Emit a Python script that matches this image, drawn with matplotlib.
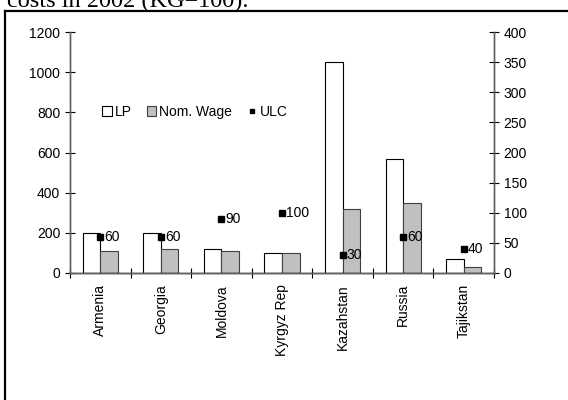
import matplotlib
matplotlib.use("Agg")
import matplotlib.pyplot as plt
import matplotlib.patches as mpatches
from matplotlib.lines import Line2D
import numpy as np

plt.rcParams["font.family"] = ["Liberation Sans", "DejaVu Sans"]

countries = ["Armenia", "Georgia", "Moldova", "Kyrgyz Rep", "Kazahstan", "Russia", "Tajikstan"]
lp = [200, 200, 120, 100, 1050, 570, 70]
nom_wage = [110, 120, 110, 100, 320, 350, 30]
ulc = [60, 60, 90, 100, 30, 60, 40]

AX_COL = "#606060"
W = 568 / 100
H = 400 / 100

fig = plt.figure(figsize=(W, H), dpi=100)
ax = fig.add_axes([70 / 568, 1 - 273 / 400, 424 / 568, 241 / 400])
ax2 = ax.twinx()

x = np.arange(len(countries))
bw = 0.29
ax.bar(x - bw / 2, lp, bw, color="white", edgecolor="black", linewidth=0.8, zorder=2)
ax.bar(x + bw / 2, nom_wage, bw, color="#C0C0C0", edgecolor="#404040", linewidth=0.8, zorder=2)

ax2.plot(x, ulc, ls="none", marker="s", ms=4, color="black", zorder=3)
for xi, v in zip(x, ulc):
    ax2.annotate(f"{v}", (xi, v), xytext=(3, 0), textcoords="offset points",
                 ha="left", va="center", fontsize=10)

ax.set_xlim(-0.5, len(countries) - 0.5)
ax.set_ylim(0, 1200)
ax.set_yticks(range(0, 1201, 200))
ax2.set_ylim(0, 400)
ax2.set_yticks(range(0, 401, 50))

ax.set_xticks(x)
ax.set_xticklabels(countries, rotation=90, fontsize=10)
ax.set_xticks(np.arange(-0.5, len(countries)), minor=True)
ax.tick_params(axis="x", which="major", length=0, pad=8)
ax.tick_params(axis="x", which="minor", direction="inout", length=7, color="black", width=0.8)
ax.tick_params(axis="y", direction="inout", length=7, color="black", width=0.8, labelsize=10)
ax2.tick_params(axis="y", direction="inout", length=7, color="black", width=0.8, labelsize=10)

for a in (ax, ax2):
    a.spines["top"].set_visible(False)
    for s in ("left", "right", "bottom"):
        a.spines[s].set_color(AX_COL)
        a.spines[s].set_linewidth(1.0)
ax.spines["bottom"].set_color("black")

handles = [
    mpatches.Patch(facecolor="white", edgecolor="black", linewidth=0.8, label="LP"),
    mpatches.Patch(facecolor="#C0C0C0", edgecolor="#404040", linewidth=0.8, label="Nom. Wage"),
    Line2D([], [], ls="none", marker="s", ms=3.5, color="black", label="ULC"),
]
fig.legend(handles=handles, loc="center left", bbox_to_anchor=(95 / 568, 1 - 112 / 400),
           ncol=3, frameon=False, fontsize=10, handlelength=0.7, handleheight=0.7,
           handletextpad=0.2, columnspacing=1.1, borderpad=0)

# clipped caption and frame from the source document
fig.text(7 / 568, 1 - 7 / 400, "costs in 2002 (KG=100).", family=["Liberation Serif", "DejaVu Serif"],
         fontsize=17.5, va="baseline", ha="left")
fig.add_artist(Line2D([5 / 568, 1], [1 - 11 / 400, 1 - 11 / 400], transform=fig.transFigure,
                      color="black", lw=1.6))
fig.add_artist(Line2D([5 / 568, 5 / 568], [0, 1 - 11 / 400], transform=fig.transFigure,
                      color="black", lw=1.6))

fig.savefig("out.png", dpi=100)
